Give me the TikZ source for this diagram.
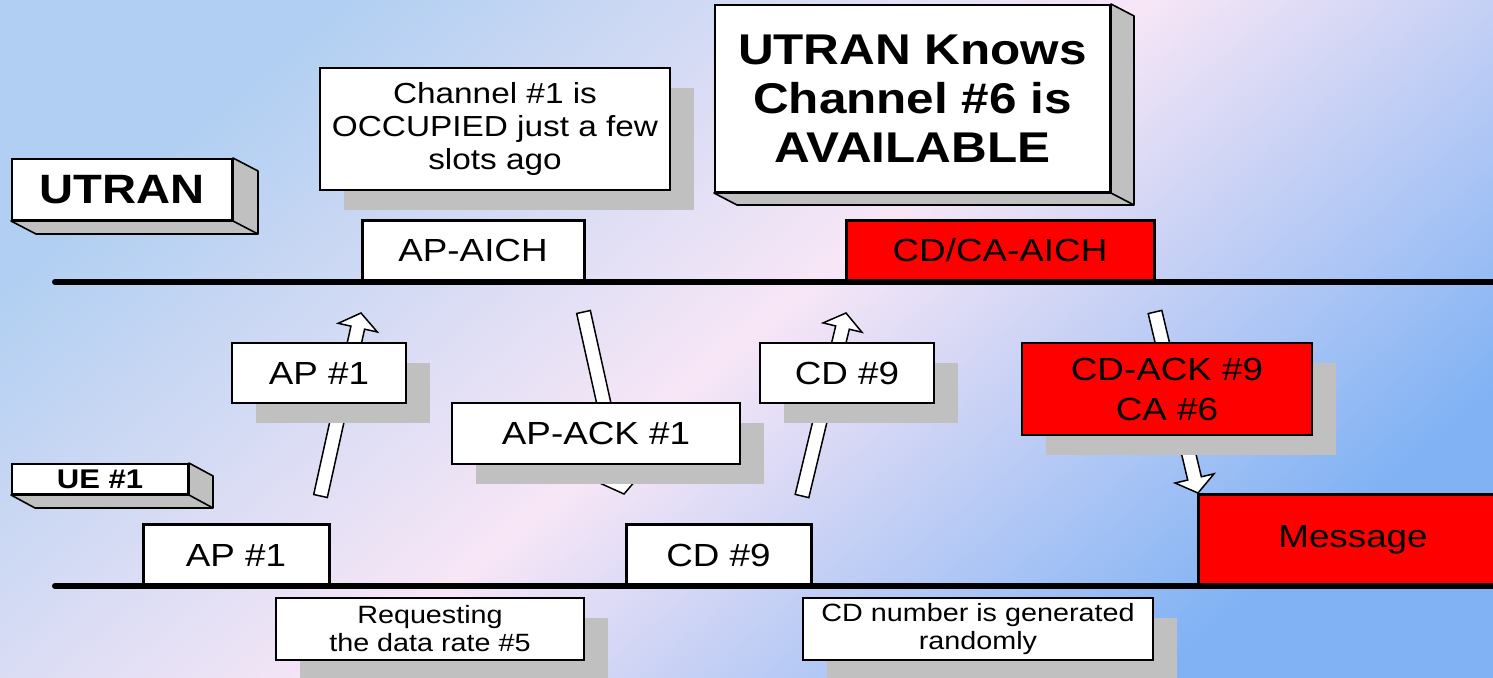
\documentclass[tikz,border=0pt]{standalone}
\usepackage{fontspec}
\setmainfont[FakeStretch=1.15]{Liberation Sans}
\usetikzlibrary{calc,shadows}
\definecolor{bgL}{RGB}{176,207,242}
\definecolor{bgM}{RGB}{247,230,246}
\definecolor{bgR}{RGB}{128,178,244}
\definecolor{sgray}{RGB}{192,192,192}
\definecolor{cred}{RGB}{255,0,0}
\newcommand\myblockarrow[2]{%
  \coordinate (hb) at ($(#2)!15pt!(#1)$);
  \draw[blockarr] ($(#1)!7pt!90:(#2)$) -- ($(hb)!7pt!90:(#2)$) -- ($(hb)!20pt!90:(#2)$) -- (#2)
     -- ($(hb)!20pt!-90:(#2)$) -- ($(hb)!7pt!-90:(#2)$) -- ($(#1)!7pt!-90:(#2)$) -- cycle;}
\newcommand\mydepth[3]{%
  \draw[side] (#1.south west) -- ($(#1.south west)+(#2,#3)$) -- ($(#1.south east)+(#2,#3)$)
     -- ($(#1.north east)+(#2,#3)$) -- (#1.north east) -- (#1.south east) -- cycle;
  \draw[side] (#1.south east) -- ($(#1.south east)+(#2,#3)$);}
\tikzset{
  lbl/.style={draw=black, line width=3pt, fill=white, inner sep=0pt, align=center,
    font=\fontsize{32}{40}\selectfont},
  redlbl/.style={lbl, fill=cred},
  shad/.style={drop shadow={shadow xshift=24pt, shadow yshift=-20pt, fill=sgray, opacity=1}},
  midlbl/.style={lbl, line width=2.2pt, shad},
  midred/.style={midlbl, fill=cred},
  notebox/.style={draw=black, line width=1.8pt, fill=white, inner sep=0pt, align=center, shad},
  face/.style={draw=black, line width=2pt, fill=white, inner sep=0pt, align=center},
  side/.style={draw=black, line width=1.6pt, fill=sgray, line join=round},
  blockarr/.style={draw=black, line width=1.5pt, fill=white, line join=miter},
  tline/.style={draw=black, line width=6pt, line cap=round}
}
\begin{document}
\begin{tikzpicture}[x=1pt,y=-1pt]
\useasboundingbox (0,0) rectangle (1493,677);
\shade[left color=bgL, right color=bgR, middle color=bgM, shading angle=40] (0,0) rectangle (1493,677);

% timelines and boxes on them
\node[lbl, minimum width=222, minimum height=61] (apaich) at (473,250.5) {AP-AICH};
\node[redlbl, minimum width=308, minimum height=61] (cdaich) at (1000,250.5) {CD/CA-AICH};
\node[lbl, minimum width=186, minimum height=62] (ap1) at (236,555) {AP \#1};
\node[lbl, minimum width=185, minimum height=62] (cd9) at (718.5,555) {CD \#9};
\node[redlbl, minimum width=310, minimum height=92] (msg) at (1353,540) {Message};
\coordinate (ul) at (55,282);
\coordinate (ur) at (1500,282);
\coordinate (el) at (55,586);
\coordinate (er) at (1500,586);
\draw[tline] (ul) -- (ur);
\draw[tline] (el) -- (er);

% arrows
\coordinate (apT) at (320.5,496);
\coordinate (apH) at (361,313);
\coordinate (ackT) at (583.5,312);
\coordinate (ackH) at (624,494);
\coordinate (cdT) at (802,496);
\coordinate (cdH) at (846,313);
\coordinate (caT) at (1155,312);
\coordinate (caH) at (1198,493);
\myblockarrow{apT}{apH}
\myblockarrow{ackT}{ackH}
\myblockarrow{cdT}{cdH}
\myblockarrow{caT}{caH}

% middle messages
\node[midlbl, minimum width=174, minimum height=60] (apm) at (319,373) {AP \#1};
\node[midlbl, minimum width=288, minimum height=61] (apack) at (596,433.5) {AP-ACK \#1};
\node[midlbl, minimum width=174, minimum height=60] (cdm) at (847,373) {CD \#9};
\node[midred, minimum width=290, minimum height=92, font=\fontsize{32}{40}\selectfont] (cdack) at (1167,389) {CD-ACK \#9\\CA \#6};

% notes
\node[notebox, minimum width=350, minimum height=122, font=\fontsize{29}{33}\selectfont] (occ) at (495,129) {Channel \#1 is\\OCCUPIED just a few\\slots ago};
\node[notebox, minimum width=308, minimum height=62, font=\fontsize{25}{28}\selectfont] (req) at (430,629) {Requesting\\the data rate \#5};
\node[notebox, minimum width=350, minimum height=62, font=\fontsize{25}{28}\selectfont] (rnd) at (978,629) {CD number is generated\\randomly};

% 3D labels
\node[face, minimum width=220, minimum height=61, font=\fontsize{41}{45}\selectfont\bfseries] (utran) at (122,189.5) {UTRAN};
\mydepth{utran}{25}{13}
\node[face, minimum width=176, minimum height=30, font=\fontsize{27}{30}\selectfont\bfseries] (ue) at (100,479) {UE \#1};
\mydepth{ue}{24}{13}
\node[face, minimum width=395, minimum height=187, font=\fontsize{43}{49}\selectfont\bfseries] (knows) at (912.5,98.5) {UTRAN Knows\\Channel \#6 is\\AVAILABLE};
\mydepth{knows}{23}{12}
\end{tikzpicture}
\end{document}
